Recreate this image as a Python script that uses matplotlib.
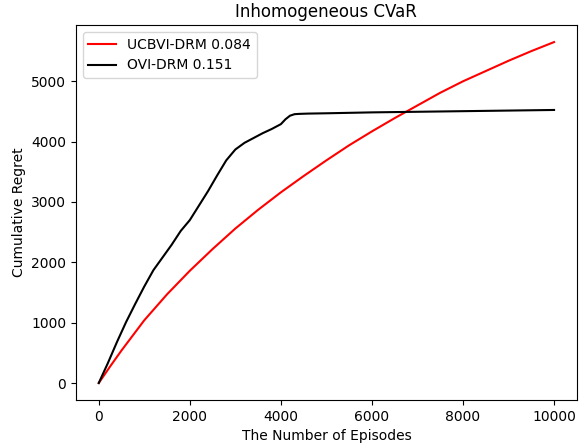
import matplotlib
matplotlib.use("Agg")
import matplotlib.pyplot as plt

# episodes / cumulative regret
ucb_x = [0, 250, 500, 750, 1000, 1500, 2000, 2500, 3000, 3500, 4000, 4500,
         5000, 5500, 6000, 6500, 7000, 7500, 8000, 8500, 9000, 9500, 10000]
ucb_y = [0, 275, 540, 790, 1040, 1470, 1860, 2220, 2560, 2870, 3160, 3430,
         3690, 3940, 4170, 4390, 4600, 4810, 5000, 5170, 5340, 5500, 5650]

ovi_x = [0, 200, 400, 600, 800, 1000, 1200, 1400, 1600, 1800, 2000,
         2200, 2400, 2600, 2800, 3000, 3200, 3400, 3600, 3800, 4000,
         4100, 4200, 4300, 4400, 4600, 5000, 6000, 7000, 8000, 9000, 10000]
ovi_y = [0, 330, 680, 1010, 1310, 1600, 1870, 2080, 2290, 2520, 2700,
         2940, 3180, 3440, 3690, 3870, 3980, 4060, 4140, 4210, 4290,
         4370, 4430, 4455, 4460, 4465, 4470, 4485, 4495, 4505, 4515, 4525]

fig = plt.figure(figsize=(5.81, 4.47), dpi=100)
ax = fig.add_axes([0.1308, 0.105, 0.862, 0.839])

ax.plot(ucb_x, ucb_y, color="red", lw=1.5, label="UCBVI-DRM 0.084")
ax.plot(ovi_x, ovi_y, color="black", lw=1.5, label="OVI-DRM 0.151")

ax.set_title("Inhomogeneous CVaR")
ax.set_xlabel("The Number of Episodes")
ax.set_ylabel("Cumulative Regret")
ax.legend(loc="upper left")

fig.savefig("out.png", dpi=100)
